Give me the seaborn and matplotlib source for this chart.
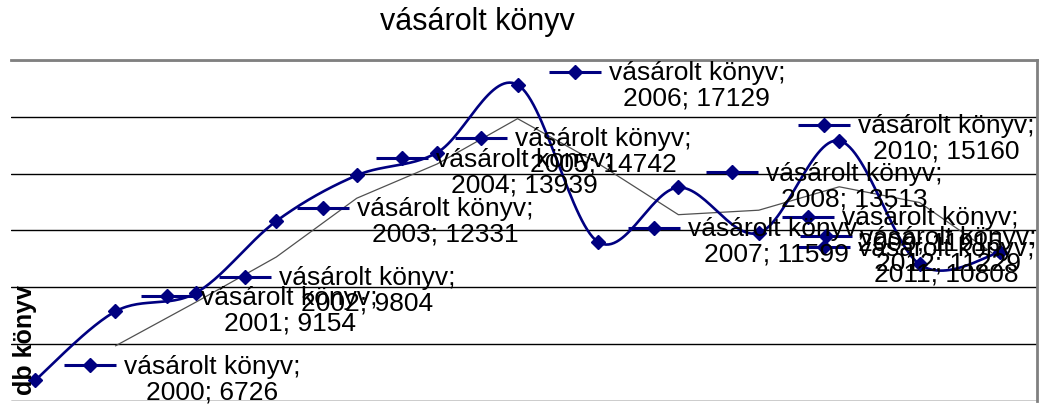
import numpy as np
import pandas as pd
import seaborn as sns
import matplotlib.pyplot as plt
from matplotlib.transforms import offset_copy

# data
years = [2000, 2001, 2002, 2003, 2004, 2005, 2006, 2007, 2008, 2009, 2010, 2011, 2012]
books = [6726, 9154, 9804, 12331, 13939, 14742, 17129, 11599, 13513, 11915, 15160, 10808, 11229]
series_name = "vásárolt könyv"

# label placement (key centre offset from point, pixels, y downwards)
key_dx = [55, 52, 49, 47, 45, 44, 57, 56, 54, 49, -15, -96, -174]
key_dy = [-15, -15, -16, -13, -17, -15, -13, -14, -15, -16, -16, -17, -16]

navy = "#000080"

sns.set_theme(style="white")
plt.rcParams["font.family"] = ["Liberation Sans", "DejaVu Sans"]
plt.rcParams["text.color"] = "black"

df = pd.DataFrame({"idx": np.arange(len(years)), "year": years, "books": books})
# 2-period moving average trendline
df["trend"] = df["books"].rolling(2).mean()


def smooth(xs, ys, n=30):
    # Catmull-Rom style smoothing like the spreadsheet "smoothed line"
    xs = np.asarray(xs, float)
    ys = np.asarray(ys, float)
    px = np.concatenate([[xs[0]], xs, [xs[-1]]])
    py = np.concatenate([[ys[0]], ys, [ys[-1]]])
    out_x, out_y = [], []
    t = np.linspace(0, 1, n, endpoint=False)
    for i in range(1, len(px) - 2):
        p0, p1, p2, p3 = (np.array([px[j], py[j]]) for j in range(i - 1, i + 3))
        c1 = p1 + (p2 - p0) / 6
        c2 = p2 - (p3 - p1) / 6
        b = ((1 - t) ** 3)[:, None] * p1 + (3 * (1 - t) ** 2 * t)[:, None] * c1 \
            + (3 * (1 - t) * t ** 2)[:, None] * c2 + (t ** 3)[:, None] * p2
        out_x.extend(b[:, 0])
        out_y.extend(b[:, 1])
    out_x.append(xs[-1])
    out_y.append(ys[-1])
    return pd.DataFrame({"x": out_x, "y": out_y})


fig = plt.figure(figsize=(10.54, 4.05), dpi=100)
ax = fig.add_axes([0.0104, 0.0099, 0.9735, 0.8420])

curve = smooth(df["idx"], df["books"])
sns.lineplot(data=df.dropna(), x="idx", y="trend", color="#505050", lw=0.9, ax=ax)
sns.lineplot(data=curve, x="x", y="y", color=navy, lw=1.9, sort=False, ax=ax)
ax.plot(df["idx"], df["books"], ls="none", marker="D", ms=7, color=navy)

for i, (yr, v) in enumerate(zip(years, books)):
    tr = offset_copy(ax.transData, fig=fig, x=key_dx[i], y=-key_dy[i], units="dots")
    ax.plot([i], [v], marker="_", ms=37, mew=2.2, color=navy, transform=tr, clip_on=False)
    ax.plot([i], [v], marker="D", ms=7, color=navy, transform=tr, clip_on=False)
    ax.annotate(f"{series_name};\n{yr}; {v}", xy=(i, v),
                xytext=(key_dx[i] + 34, -(key_dy[i] + 14)), textcoords="offset pixels",
                ha="left", va="center", multialignment="center",
                fontsize=19, linespacing=1.08, color="black", annotation_clip=False)

ax.set_xlim(-0.30, 12.46)
ax.set_ylim(6000, 18000)
ax.set_yticks(np.arange(6000, 18001, 2000))
ax.set_xticks([])
ax.set_yticklabels([])
ax.tick_params(left=False, bottom=False)
ax.grid(axis="y", color="black", lw=1)
ax.set_xlabel("")
ax.set_ylabel("")
for side in ["left", "bottom"]:
    ax.spines[side].set_visible(False)
for side in ["top", "right"]:
    ax.spines[side].set_color("#808080")
    ax.spines[side].set_linewidth(2)

fig.text(0.453, 0.946, series_name, ha="center", va="center", fontsize=22)
fig.text(0.024, 0.16, "db könyv", rotation=90, ha="center", va="center",
         fontsize=18, fontweight="bold")

fig.savefig("out.png", dpi=100)
